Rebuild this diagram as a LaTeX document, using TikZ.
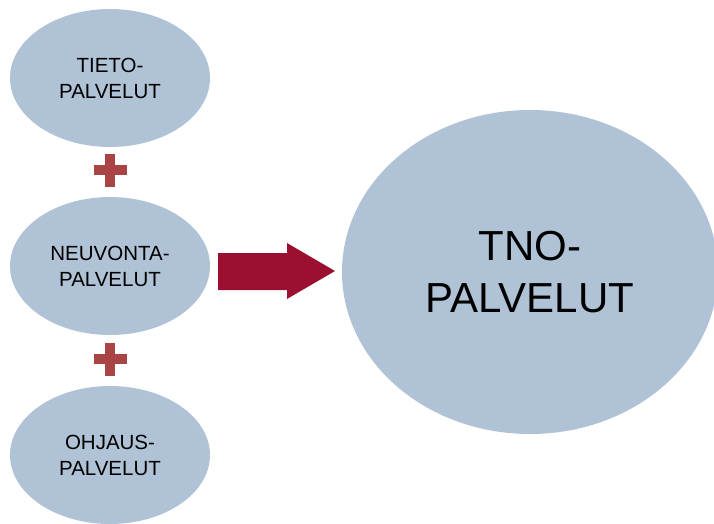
\documentclass[tikz,border=0pt]{standalone}
\usepackage{fontspec}
\setmainfont{Liberation Sans}
\usetikzlibrary{shapes.geometric}
\definecolor{ellfill}{RGB}{176,195,214}
\definecolor{plusred}{RGB}{168,68,68}
\definecolor{arrowred}{RGB}{155,16,48}
\begin{document}
\begin{tikzpicture}[x=1pt,y=-1pt,
  smallell/.style={ellipse, fill=ellfill, draw=none, inner sep=0pt,
    minimum width=200pt, minimum height=138pt, align=center,
    font=\fontsize{20.5}{26}\selectfont},
  bigell/.style={ellipse, fill=ellfill, draw=none, inner sep=0pt,
    minimum width=376pt, minimum height=324pt, align=center,
    font=\fontsize{42}{52}\selectfont},
  plusbar/.style={fill=plusred, draw=none}]
\clip (0,0) rectangle (714,523);
\useasboundingbox (0,0) rectangle (714,523);
\node[smallell] (tieto) at (110,78) {TIETO-\\PALVELUT};
\node[smallell] (neuvonta) at (110,266) {NEUVONTA-\\PALVELUT};
\node[smallell] (ohjaus) at (110,455) {OHJAUS-\\PALVELUT};
\node[bigell] (tno) at (530,272) {TNO-\\PALVELUT};
% plus signs
\coordinate (p1) at (110,170);
\coordinate (p2) at (110,359);
\foreach \p in {p1,p2}{
  \fill[plusred] ([xshift=-16.5pt,yshift=-4.75pt]\p) rectangle ([xshift=16.5pt,yshift=4.75pt]\p);
  \fill[plusred] ([xshift=-4.75pt,yshift=-16.5pt]\p) rectangle ([xshift=4.75pt,yshift=16.5pt]\p);
}
% block arrow
\fill[arrowred] (218,253) -- (287,253) -- (287,243) -- (335,271) -- (287,299) -- (287,290) -- (218,290) -- cycle;
\end{tikzpicture}
\end{document}
